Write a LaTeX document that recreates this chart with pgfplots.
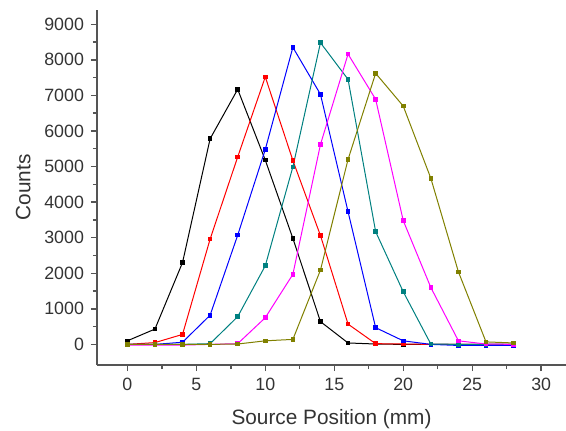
\documentclass[border=0pt]{standalone}
\usepackage{pgfplots}
\pgfplotsset{compat=1.18}
\usepackage{fontspec}
\setmainfont{Liberation Sans}
\definecolor{axgray}{HTML}{555555}
\definecolor{txtgray}{HTML}{333333}
\definecolor{cteal}{HTML}{008080}
\definecolor{colive}{HTML}{808000}
\definecolor{cmag}{HTML}{FF00FF}
\begin{document}
\begin{tikzpicture}
\begin{axis}[
  name=ax,
  scale only axis,
  width=234.5pt, height=177.5pt,
  xmin=-2.2, xmax=31.8,
  ymin=-580, ymax=9400,
  axis lines*=left,
  axis line style={axgray, line width=1pt},
  xtick={0,5,...,30},
  ytick={0,1000,...,9000},
  minor x tick num=1,
  minor y tick num=1,
  tick align=outside,
  major tick length=3pt,
  minor tick length=2pt,
  tick style={axgray, line width=0.7pt},
  ticklabel style={font=\fontsize{8.9}{10}\selectfont, text=txtgray},
  /pgf/number format/1000 sep={},
  /pgf/number format/assume math mode=true,
  xlabel={Source Position (mm)},
  ylabel={Counts},
  xlabel style={yshift=-2.5pt},
  label style={font=\fontsize{10.4}{12}\selectfont, text=txtgray},
  every axis plot/.append style={line width=0.5pt, mark=square*, mark size=0.9pt},
  clip=false,
]
\addplot[black, mark options={fill=black}] coordinates {
(0,100) (2,430) (4,2300) (6,5780) (8,7170) (10,5180) (12,2980) (14,640) (16,40) (18,10) (20,0) (22,0) (24,0) (26,0) (28,0)};
\addplot[red, mark options={fill=red}] coordinates {
(0,0) (2,50) (4,280) (6,2960) (8,5270) (10,7520) (12,5170) (14,3060) (16,570) (18,20) (20,10) (22,0) (24,0) (26,0) (28,0)};
\addplot[blue, mark options={fill=blue}] coordinates {
(0,0) (2,0) (4,60) (6,820) (8,3070) (10,5480) (12,8350) (14,7030) (16,3730) (18,470) (20,100) (22,0) (24,-30) (26,-30) (28,-30)};
\addplot[cteal, mark options={fill=cteal}] coordinates {
(0,0) (2,0) (4,0) (6,20) (8,780) (10,2210) (12,4990) (14,8480) (16,7450) (18,3170) (20,1480) (22,10) (24,0) (26,0) (28,0)};
\addplot[cmag, mark options={fill=cmag}] coordinates {
(0,-20) (2,-20) (4,-20) (6,0) (8,20) (10,750) (12,1970) (14,5620) (16,8160) (18,6890) (20,3480) (22,1600) (24,100) (26,10) (28,0)};
\addplot[colive, mark options={fill=colive}] coordinates {
(0,0) (2,0) (4,0) (6,0) (8,10) (10,100) (12,140) (14,2090) (16,5200) (18,7620) (20,6700) (22,4670) (24,2040) (26,70) (28,40)};
\end{axis}
\pgfresetboundingbox
\path[use as bounding box] ([xshift=-48.5pt,yshift=-32.5pt]ax.south west) rectangle ([yshift=5pt]ax.north east);
\end{tikzpicture}
\end{document}
